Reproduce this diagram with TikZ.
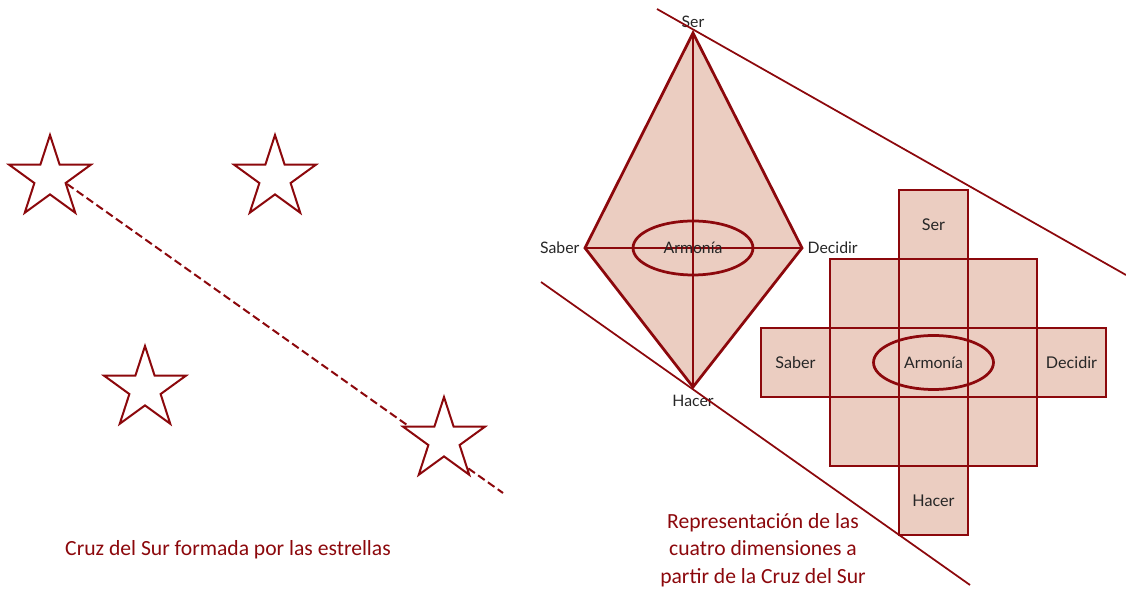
\documentclass[tikz,border=0pt]{standalone}
\usepackage{fontspec}
\setmainfont{Carlito}
\newfontfamily\etiq{Lato}
\usetikzlibrary{shapes.geometric}
\definecolor{granate}{RGB}{140,8,12}
\definecolor{rosado}{RGB}{235,205,193}
\definecolor{texto}{RGB}{38,38,38}

\begin{document}
\begin{tikzpicture}[x=0.02cm,y=-0.02cm]
        \tikzset{estrella/.style={star,star points=5,star point ratio=2.618,
                minimum size=1.72cm,inner sep=0pt,draw=granate,fill=white,line width=0.04cm},
            trazo/.style={draw=granate,line width=0.055cm},
            tangente/.style={draw=granate,line width=0.035cm},
            celda/.style={trazo,fill=rosado,minimum size=1.38cm,inner sep=0pt,
                text=texto,font=\etiq\fontsize{9.2}{10}\selectfont},
            vertice/.style={text=texto,font=\etiq\fontsize{9}{10}\selectfont,inner sep=3pt},
            armonia/.style={trazo,ellipse,minimum width=2.4cm,minimum height=1.08cm,
                inner sep=0pt,text=texto,font=\etiq\fontsize{9}{10}\selectfont},
            leyenda/.style={text=granate,font=\fontsize{12.3}{15.6}\selectfont,align=center}}
        \useasboundingbox (0,0) rectangle (1126,590);
        % estrellas
        \coordinate (d1) at (67,184);
        \coordinate (d2) at (503,493);
        \draw[granate,line width=0.04cm,dash pattern=on 0.16cm off 0.08cm] (d1) -- (d2);
        \node[estrella] (e1) at (50,178) {};
        \node[estrella] (e2) at (275,178) {};
        \node[estrella] (e3) at (145,389) {};
        \node[estrella] (e4) at (444,440) {};
        \node[leyenda] (cap1) at (228,550) {Cruz del Sur formada por las estrellas};
        % rombo
        \coordinate (ser) at (693,33);
        \coordinate (saber) at (585,248);
        \coordinate (decidir) at (802,248);
        \coordinate (hacer) at (693,387);
        \draw[trazo,fill=rosado,line join=miter] (ser) -- (decidir) -- (hacer) -- (saber) -- cycle;
        \draw[trazo] (ser) -- (hacer);
        \draw[trazo] (saber) -- (decidir);
        \node[armonia] (a1) at (693,248) {Armon\'ia};
        \node[vertice,above] at (ser) {Ser};
        \node[vertice,left] at (saber) {Saber};
        \node[vertice,right] at (decidir) {Decidir};
        \node[vertice,below,inner sep=4.5pt] at (hacer) {Hacer};
        % rectas
        \coordinate (t1) at (657,9);
        \coordinate (t2) at (1126,275);
        \coordinate (t3) at (541,282);
        \coordinate (t4) at (970,585);
        \draw[tangente] (t1) -- (t2);
        \draw[tangente] (t3) -- (t4);
        % cruz
        \foreach \i/\j/\txt in {2/0/Ser,1/1/,2/1/,3/1/,0/2/Saber,1/2/,2/2/,3/2/,4/2/Decidir,1/3/,2/3/,3/3/,2/4/Hacer}
            \node[celda] (c\i\j) at ({795.5+69*\i},{224.5+69*\j}) {\txt};
        \node[armonia] (a2) at (c22) {Armon\'ia};
        \node[leyenda] (cap2) at (763,550) {Representaci\'on de las\\cuatro dimensiones a\\partir de la Cruz del Sur};
    \end{tikzpicture}
\end{document}
